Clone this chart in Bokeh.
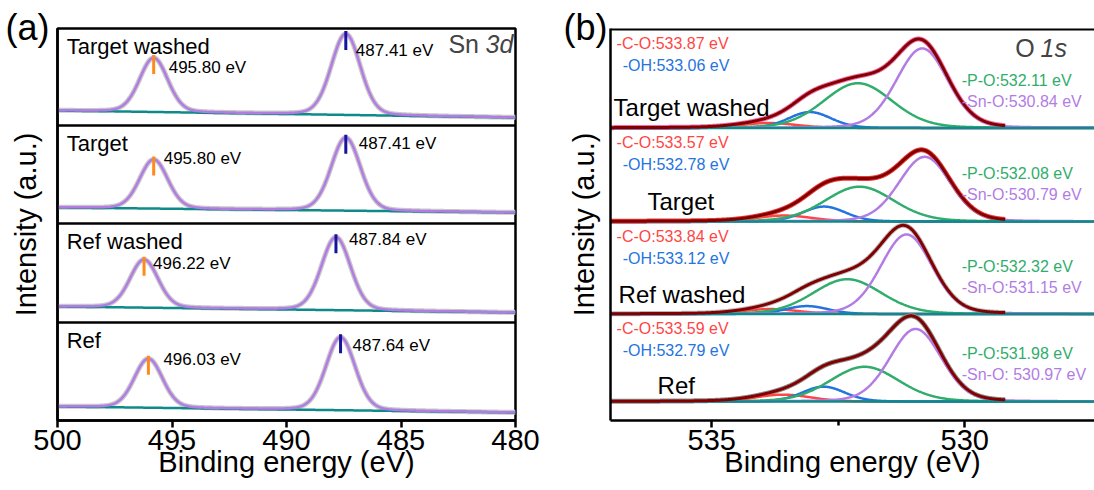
import numpy as np
from bokeh.plotting import figure
from bokeh.layouts import row
from bokeh.models import Span, Label, FixedTicker, Range1d, Title
from bokeh.embed import file_html
from bokeh.resources import INLINE

FONT = "Liberation Sans"

# ---------------- Panel (a): Sn 3d ----------------
sn_samples = ["Target washed", "Target", "Ref washed", "Ref"]
sn_3d32_pos = [495.80, 495.80, 496.22, 496.03]
sn_3d52_pos = [487.41, 487.41, 487.84, 487.64]
sn_3d32_height = [54, 49, 48, 49]
sn_3d52_height = [81, 73, 73, 73]
sn_3d32_fwhm = [1.45, 1.45, 1.45, 1.45]
sn_3d52_fwhm = [1.50, 1.50, 1.50, 1.50]
sn_bg_at_500 = [15, 16, 16, 14]
sn_bg_at_480 = [8, 11, 10, 8]
sn_ticks = [500, 495, 490, 485, 480]

# ---------------- Panel (b): O 1s ----------------
o_samples = ["Target washed", "Target", "Ref washed", "Ref"]
o_co_pos = [533.87, 533.57, 533.84, 533.59]
o_oh_pos = [533.06, 532.78, 533.12, 532.79]
o_po_pos = [532.11, 532.08, 532.32, 531.98]
o_sno_pos = [530.84, 530.79, 531.15, 530.97]
o_co_height = [5, 6, 5, 7]
o_oh_height = [16, 15, 8, 15]
o_po_height = [45, 35, 35, 35]
o_sno_height = [80, 65, 80, 73]
o_co_fwhm = 1.3
o_oh_fwhm = 1.0
o_po_fwhm = 1.6
o_sno_fwhm = 1.2
o_sno_label_sep = ["", "", "", " "]
o_ticks = [535, 530]
o_minor_ticks = [537.5, 532.5]

# ---------------- layout offsets for annotations (pixels) ----------------
lab32_dx = [15, 10, 9, 15]
lab32_dy = [10, -1, 4, 1]
lab52_dx = [10, 13, 13, 12]
lab52_dy = [17, 6, 2, 8]
PX_A = 22.9   # px per eV, panel (a)
PX_B = 50.6   # px per eV, panel (b)

# ---------------- styles ----------------
C_PURPLE = "#b27ce4"
C_TEAL = "#0f8a8a"
C_GRAY = "#c8c8c8"
C_ORANGE = "#ff8a1c"
C_NAVY = "#14149c"
C_RED = "#ff4646"
C_BLUE = "#2474e0"
C_GREEN = "#30ad6c"
C_BROWN = "#820000"
RAW_B = ["#f06aa8", "#e83a3a", "#b8b8b8", "#8c8c8c"]


def gl(x, c, fwhm, h, eta=0.15):
    s = fwhm / 2.3548
    g = np.exp(-(x - c) ** 2 / (2 * s * s))
    lo = 1.0 / (1.0 + ((x - c) / (fwhm / 2)) ** 2)
    return h * ((1 - eta) * g + eta * lo)


def style_axes(p):
    for ax in p.axis:
        ax.axis_line_width = 2.5
        ax.axis_line_color = "black"
        ax.major_tick_line_width = 2.5
        ax.minor_tick_line_width = 2.5
        ax.major_tick_in = 0
        ax.major_tick_out = 7
        ax.minor_tick_in = 0
        ax.minor_tick_out = 5
        ax.major_label_text_font = FONT
        ax.major_label_text_font_size = "29px"
        ax.major_label_text_color = "black"
        ax.axis_label_text_font = FONT
        ax.axis_label_text_font_size = "29px"
        ax.axis_label_text_font_style = "normal"
        ax.axis_label_text_color = "black"


def panel_title(text, offset):
    return Title(text=text, align="left", offset=offset, standoff=-38,
                 vertical_align="bottom", text_font=FONT, text_font_size="36px",
                 text_font_style="normal", text_color="black")


# =========== figure A ===========
H = 490
pA = figure(width=553, height=H, output_backend="svg", toolbar_location=None,
            x_range=Range1d(500, 480), y_range=Range1d(0, 392),
            min_border_left=57, min_border_right=38, min_border_top=28,
            min_border_bottom=70, title=panel_title("(a)", -52))
pA.grid.visible = False
pA.outline_line_color = "black"
pA.outline_line_width = 2.5
pA.xaxis.ticker = FixedTicker(ticks=sn_ticks, minor_ticks=[])
pA.yaxis.ticker = FixedTicker(ticks=[], minor_ticks=[])
pA.xaxis.axis_label = "Binding energy (eV)"
pA.yaxis.axis_label = "Intensity (a.u.)"
style_axes(pA)
pA.xaxis.major_label_standoff = 2
pA.xaxis.axis_label_standoff = -7
pA.yaxis.axis_label_standoff = 16

box_h = [97, 98, 99, 98]
box_bottom = [392 - sum(box_h[:i + 1]) for i in range(4)]
box_top = [392 - sum(box_h[:i]) for i in range(4)]
for yb in box_bottom[:-1]:
    pA.add_layout(Span(location=yb, dimension="width", line_color="black", line_width=2.5))

xa = np.linspace(500, 480, 800)
for i, name in enumerate(sn_samples):
    off = box_bottom[i]
    bg = sn_bg_at_500[i] + (sn_bg_at_480[i] - sn_bg_at_500[i]) * (500 - xa) / 20.0
    p1 = gl(xa, sn_3d32_pos[i], sn_3d32_fwhm[i], sn_3d32_height[i])
    p2 = gl(xa, sn_3d52_pos[i], sn_3d52_fwhm[i], sn_3d52_height[i])
    fit = off + bg + p1 + p2
    pA.line(xa, fit, line_color=C_GRAY, line_width=5)
    pA.line(xa, off + bg, line_color=C_TEAL, line_width=2.5)
    pA.line(xa, fit, line_color=C_PURPLE, line_width=2.5)

    def bg_at(e):
        return sn_bg_at_500[i] + (sn_bg_at_480[i] - sn_bg_at_500[i]) * (500 - e) / 20.0

    for c, h, col, dx, dy in ((sn_3d32_pos[i], sn_3d32_height[i], C_ORANGE, lab32_dx[i], lab32_dy[i]),
                              (sn_3d52_pos[i], sn_3d52_height[i], C_NAVY, lab52_dx[i], lab52_dy[i])):
        top = off + bg_at(c) + h
        pA.segment(x0=[c], y0=[top + 3], x1=[c], y1=[top - 16], line_color=col, line_width=3)
        pA.add_layout(Label(x=c - dx / PX_A, y=top - dy, text="%.2f eV" % c,
                            text_font=FONT, text_font_size="17px", text_color="black",
                            text_align="left", text_baseline="middle"))
    pA.add_layout(Label(x=499.6, y=box_top[i] - 18, text=name, text_font=FONT,
                        text_font_size="22px", text_color="black",
                        text_align="left", text_baseline="middle"))

pA.add_layout(Label(x=482.93, y=377, text="Sn", text_font=FONT, text_font_size="25px",
                    text_align="left", text_baseline="middle"))
pA.add_layout(Label(x=481.31, y=377, text="3d", text_font=FONT, text_font_size="25px",
                    text_font_style="italic", text_align="left", text_baseline="middle"))

# =========== figure B ===========
xb_start = 537.0
xb_end = 537.0 - 484 / PX_B
pB = figure(width=541, height=H, output_backend="svg", toolbar_location=None,
            x_range=Range1d(xb_start, xb_end), y_range=Range1d(0, 394),
            min_border_left=57, min_border_right=0, min_border_top=28,
            min_border_bottom=68, title=panel_title("(b)", -47))
pB.grid.visible = False
pB.outline_line_color = None
pB.xaxis.ticker = FixedTicker(ticks=o_ticks, minor_ticks=o_minor_ticks)
pB.yaxis.ticker = FixedTicker(ticks=[], minor_ticks=[])
pB.xaxis.axis_label = "Binding energy (eV)"
pB.yaxis.axis_label = "Intensity (a.u.)"
style_axes(pB)
pB.xaxis.major_label_standoff = 2
pB.xaxis.axis_label_standoff = -7
pB.yaxis.axis_label_standoff = 11
pB.add_layout(Span(location=394, dimension="width", line_color="black", line_width=4))

o_baseline = [294, 200, 107, 19]
region_top = [394, 294, 200, 107]
xb = np.linspace(xb_start, xb_end, 900)
xe = np.linspace(xb_start, 529.2, 800)
for i, name in enumerate(o_samples):
    b = o_baseline[i]
    comps = [
        (o_co_pos[i], o_co_fwhm, o_co_height[i], C_RED),
        (o_oh_pos[i], o_oh_fwhm, o_oh_height[i], C_BLUE),
        (o_po_pos[i], o_po_fwhm, o_po_height[i], C_GREEN),
        (o_sno_pos[i], o_sno_fwhm, o_sno_height[i], C_PURPLE),
    ]
    env = np.zeros_like(xe)
    for c, f, h, col in comps:
        env += gl(xe, c, f, h)
    pB.line(xe, b + env, line_color=RAW_B[i], line_width=5)
    for c, f, h, col in comps:
        pB.line(xb, b + gl(xb, c, f, h), line_color=col, line_width=2.5)
    pB.line(xb, np.full_like(xb, b), line_color=C_TEAL, line_width=2.5)
    pB.line(xe, b + env, line_color=C_BROWN, line_width=3)

    pB.add_layout(Label(x=536.88, y=region_top[i] - 15, text="-C-O:%.2f eV" % o_co_pos[i],
                        text_font=FONT, text_font_size="16px", text_color=C_RED,
                        text_align="left", text_baseline="middle"))
    pB.add_layout(Label(x=536.76, y=region_top[i] - 37, text="-OH:%.2f eV" % o_oh_pos[i],
                        text_font=FONT, text_font_size="16px", text_color=C_BLUE,
                        text_align="left", text_baseline="middle"))
    pB.add_layout(Label(x=530.06, y=b + 48, text="-P-O:%.2f eV" % o_po_pos[i],
                        text_font=FONT, text_font_size="16px", text_color=C_GREEN,
                        text_align="left", text_baseline="middle"))
    pB.add_layout(Label(x=530.06, y=b + 27,
                        text="-Sn-O:%s%.2f eV" % (o_sno_label_sep[i], o_sno_pos[i]),
                        text_font=FONT, text_font_size="16px", text_color=C_PURPLE,
                        text_align="left", text_baseline="middle"))

name_x = [536.94, 536.27, 536.84, 536.07]
name_dy = [21, 20, 20, 16]
for i, name in enumerate(o_samples):
    pB.add_layout(Label(x=name_x[i], y=o_baseline[i] + name_dy[i], text=name, text_font=FONT,
                        text_font_size="24px", text_color="black",
                        text_align="left", text_baseline="middle"))

pB.add_layout(Label(x=529.0, y=374, text="O", text_font=FONT, text_font_size="25px",
                    text_align="left", text_baseline="middle"))
pB.add_layout(Label(x=528.50, y=374, text="1s", text_font=FONT, text_font_size="25px",
                    text_font_style="italic", text_align="left", text_baseline="middle"))

layout = row(pA, pB)
open("out.html", "w").write(file_html(layout, INLINE))
